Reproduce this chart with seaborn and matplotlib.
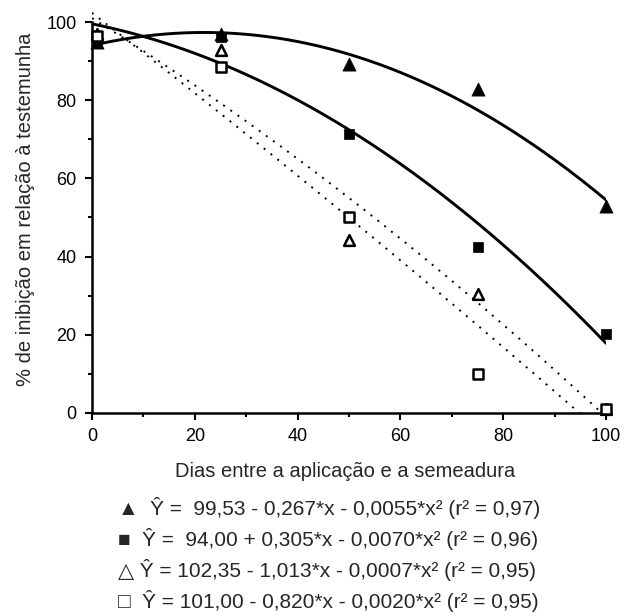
import numpy as np
import pandas as pd
import matplotlib
matplotlib.use("Agg")
import matplotlib.pyplot as plt
from matplotlib.ticker import MultipleLocator
import seaborn as sns

# Dias entre a aplicação e a semeadura
dias = [1, 25, 50, 75, 100]

# % de inibição em relação à testemunha
tri_cheio = [95.0, 97.0, 89.3, 82.9, 52.9]
quad_cheio = [95.5, 96.2, 71.3, 42.4, 20.1]
tri_vazio = [97.0, 92.8, 44.2, 30.4, 1.0]
quad_vazio = [96.5, 88.6, 50.0, 9.9, 1.0]

# Coeficientes das equações impressas na legenda: a + b*x + c*x²
coef_a = [94.00, 0.305, -0.0070]
coef_b = [99.53, -0.267, -0.0055]
coef_c = [102.35, -1.013, -0.0007]
coef_d = [101.00, -0.820, -0.0020]

legenda = [
    "\u25B2  \u0176 =  99,53 - 0,267*x - 0,0055*x\u00b2 (r\u00b2 = 0,97)",
    "\u25A0  \u0176 =  94,00 + 0,305*x - 0,0070*x\u00b2 (r\u00b2 = 0,96)",
    "\u25B3 \u0176 = 102,35 - 1,013*x - 0,0007*x\u00b2 (r\u00b2 = 0,95)",
    "\u25A1  \u0176 = 101,00 - 0,820*x - 0,0020*x\u00b2 (r\u00b2 = 0,95)",
]

sns.set_theme(style="ticks")
plt.rcParams["font.family"] = ["Liberation Sans", "DejaVu Sans"]
plt.rcParams.update({
    "axes.linewidth": 1.8,
    "xtick.major.width": 1.5,
    "ytick.major.width": 1.5,
    "xtick.minor.width": 1.5,
    "ytick.minor.width": 1.5,
    "xtick.major.size": 5,
    "ytick.major.size": 5,
    "xtick.minor.size": 3,
    "ytick.minor.size": 3,
    "xtick.labelsize": 13,
    "ytick.labelsize": 13,
    "axes.labelsize": 14.5,
    "xtick.color": "black",
    "ytick.color": "black",
    "axes.edgecolor": "black",
})

fig = plt.figure(figsize=(6.25, 6.12), dpi=100)
ax = fig.add_axes([0.1472, 0.3252, 0.8224, 0.6644])

# curvas ajustadas
xs = np.linspace(0, 100, 201)
curvas = pd.DataFrame({
    "x": xs,
    "a": np.polynomial.polynomial.polyval(xs, coef_a),
    "b": np.polynomial.polynomial.polyval(xs, coef_b),
    "c": np.polynomial.polynomial.polyval(xs, coef_c),
    "d": np.polynomial.polynomial.polyval(xs, coef_d),
})
for col, ls, lw in [("a", "-", 2.1), ("b", "-", 2.1),
                    ("c", (0, (1, 3.5)), 1.4), ("d", (0, (1, 3.5)), 1.4)]:
    sns.lineplot(data=curvas, x="x", y=col, ax=ax, color="black",
                 linewidth=lw, linestyle=ls, sort=False)

# pontos observados
sns.scatterplot(x=dias, y=tri_cheio, ax=ax, marker="^", s=90,
                color="black", edgecolor="black", linewidth=0.5,
                clip_on=False, zorder=5)
sns.scatterplot(x=dias, y=quad_cheio, ax=ax, marker="s", s=55,
                color="black", edgecolor="black", linewidth=0.5,
                clip_on=False, zorder=5)
sns.scatterplot(x=dias, y=tri_vazio, ax=ax, marker="^", s=60,
                facecolor="white", edgecolor="black", linewidth=1.8,
                clip_on=False, zorder=6)
sns.scatterplot(x=dias, y=quad_vazio, ax=ax, marker="s", s=45,
                facecolor="white", edgecolor="black", linewidth=1.8,
                clip_on=False, zorder=6)

ax.set_xlim(0, 100)
ax.set_ylim(0, 104)
ax.xaxis.set_major_locator(MultipleLocator(20))
ax.xaxis.set_minor_locator(MultipleLocator(10))
ax.yaxis.set_major_locator(MultipleLocator(20))
ax.yaxis.set_minor_locator(MultipleLocator(10))
ax.set_yticks([0, 20, 40, 60, 80, 100])
sns.despine(ax=ax)
ax.spines["left"].set_bounds(0, 100)
ax.spines["bottom"].set_bounds(0, 100)
ax.tick_params(axis="both", which="major", pad=6)

ax.set_xlabel("Dias entre a aplicação e a semeadura", va="center")
ax.xaxis.set_label_coords(0.492, -0.143)
ax.set_ylabel("% de inibição em relação à testemunha", va="center")
ax.yaxis.set_label_coords(-0.130, 0.5)

for i, linha in enumerate(legenda):
    fig.text(118 / 625, 1 - (508 + 31 * i) / 612, linha, fontsize=15,
             ha="left", va="center")

fig.savefig("out.png", dpi=100)
